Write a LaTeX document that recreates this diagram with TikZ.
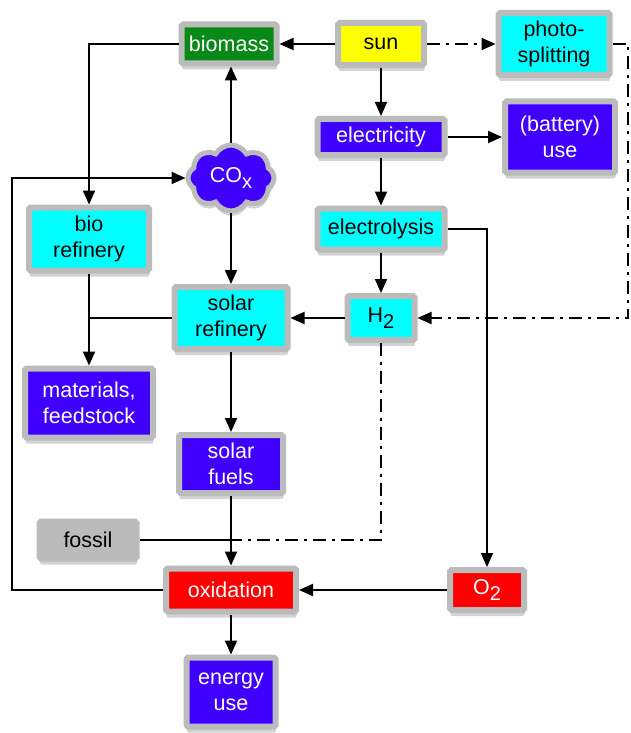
\documentclass[tikz,border=0pt]{standalone}
\usepackage{fontspec}
\setmainfont{Liberation Sans}
\usetikzlibrary{arrows.meta,shapes.symbols,shadows}
\definecolor{boxgray}{RGB}{187,187,187}
\definecolor{biogreen}{RGB}{8,138,24}
\definecolor{sunyellow}{RGB}{255,255,0}
\definecolor{procyan}{RGB}{0,255,255}
\definecolor{useblue}{RGB}{64,0,255}
\definecolor{oxred}{RGB}{255,0,0}
\newcommand{\lowsub}[1]{\raisebox{-0.55ex}{\fontsize{20}{20}\selectfont #1}}
\tikzset{
  box/.style={draw=boxgray, line width=6pt, rounded corners=1.5pt, inner sep=0pt, align=center,
    font=\fontsize{21.5}{26}\selectfont,
    drop shadow={shadow xshift=0.5pt, shadow yshift=-6pt, opacity=0.35}},
  greenbox/.style={box, fill=biogreen, text=white},
  yellowbox/.style={box, fill=sunyellow, text=black},
  cyanbox/.style={box, fill=procyan, text=black},
  bluebox/.style={box, fill=useblue, text=white},
  redbox/.style={box, fill=oxred, text=white},
  graybox/.style={box, fill=boxgray, text=black},
  flow/.style={line width=1.9pt},
  dashflow/.style={line width=1.9pt, dash pattern=on 13pt off 6pt on 3pt off 6pt}
}
\begin{document}
\begin{tikzpicture}[>={Triangle[length=14pt,width=12pt]},x=1pt,y=-1pt]
\useasboundingbox (0,0) rectangle (630,733);
% Knoten
\node[greenbox, minimum width=95pt, minimum height=39pt] (biomass) at (229,44) {biomass};
\node[yellowbox, minimum width=86pt, minimum height=42pt] (sun) at (381,44) {sun};
\node[cyanbox, minimum width=111pt, minimum height=62pt] (photo) at (554,44) {photo-\\splitting};
\node[bluebox, minimum width=127pt, minimum height=36pt] (electricity) at (381,137) {electricity};
\node[bluebox, minimum width=110pt, minimum height=71pt] (battery) at (560,137) {(battery)\\use};
\node[cloud, cloud puffs=8, cloud puff arc=120, aspect=1.35, draw=boxgray, line width=5pt,
  fill=useblue, text=white, inner sep=0pt, minimum width=86pt, minimum height=66pt,
  font=\fontsize{21.5}{26}\selectfont,
  drop shadow={shadow xshift=0.5pt, shadow yshift=-5pt, opacity=0.35}] (cox) at (231,178) {CO\lowsub{x}};
\node[cyanbox, minimum width=120pt, minimum height=63pt] (biorefinery) at (89,239) {bio\\refinery};
\node[cyanbox, minimum width=127pt, minimum height=41pt] (electrolysis) at (381,229) {electrolysis};
\node[cyanbox, minimum width=113pt, minimum height=62pt] (solarrefinery) at (231,318) {solar\\refinery};
\node[cyanbox, minimum width=67pt, minimum height=44pt] (hydrogen) at (381,318) {H\lowsub{2}};
\node[bluebox, minimum width=128pt, minimum height=69pt] (materials) at (89,403) {materials,\\feedstock};
\node[bluebox, minimum width=104pt, minimum height=58pt] (fuels) at (231,464) {solar\\fuels};
\node[graybox, minimum width=97pt, minimum height=37pt] (fossil) at (88,540) {fossil};
\node[redbox, minimum width=130pt, minimum height=43pt] (oxidation) at (231,590) {oxidation};
\node[redbox, minimum width=74pt, minimum height=40pt] (oxygen) at (487,590) {O\lowsub{2}};
\node[bluebox, minimum width=89pt, minimum height=69pt] (energy) at (231,692) {energy\\use};
% Hilfspunkte
\coordinate (leftrail) at (12,400);
\coordinate (rightrail) at (628,180);
\coordinate (merge) at (231,540);
% Verbindungen
\draw[flow,->] (sun.west) -- (biomass.east);
\draw[dashflow,->] (sun.east) -- (photo.west);
\draw[flow,->] (sun.south) -- (electricity.north);
\draw[flow,->] (electricity.east) -- (battery.west);
\draw[flow,->] (electricity.south) -- (electrolysis.north);
\draw[flow,->] (electrolysis.south) -- (hydrogen.north);
\draw[flow,->] (electrolysis.east) -| (oxygen.north);
\draw[dashflow,->] (photo.east) -| (rightrail) |- (hydrogen.east);
\draw[flow,->] (hydrogen.west) -- (solarrefinery.east);
\draw[flow,->] (biomass.west) -| (biorefinery.north);
\draw[flow,->] (cox.north) -- (cox.north |- biomass.south);
\draw[flow,->] (cox.south) -- (solarrefinery.north);
\draw[flow] (solarrefinery.west) -- (solarrefinery.west -| biorefinery.south);
\draw[flow,->] (biorefinery.south) -- (materials.north);
\draw[flow,->] (solarrefinery.south) -- (fuels.north);
\draw[flow,->] (fuels.south) -- (oxidation.north);
\draw[flow] (fossil.east) -- (merge);
\draw[dashflow] (hydrogen.south) |- (merge);
\draw[flow,->] (oxygen.west) -- (oxidation.east);
\draw[flow,->] (oxidation.south) -- (energy.north);
\draw[flow,->] (oxidation.west) -| (leftrail) |- (cox.west);
\end{tikzpicture}
\end{document}
